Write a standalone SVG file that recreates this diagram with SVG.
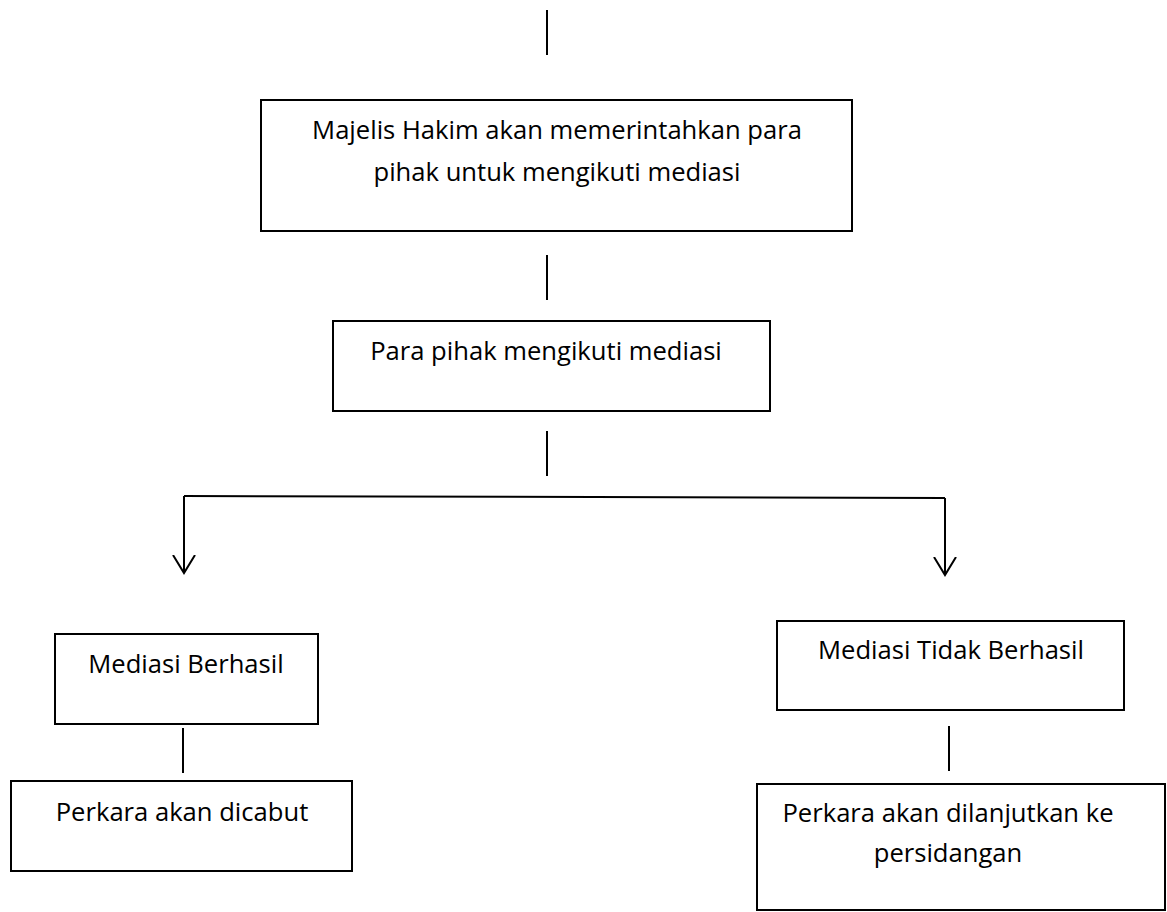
<svg xmlns="http://www.w3.org/2000/svg" width="1167" height="912" viewBox="0 0 1167 912">
<style>
.box{fill:#fff;stroke:#000;stroke-width:2}
.ln{stroke:#000;stroke-width:2;fill:none}
.t{font-family:"Open Sans","Liberation Sans",sans-serif;font-size:25.6px;fill:#000;text-anchor:middle}
</style>
<defs>
<marker id="arr" viewBox="0 0 20 24" refX="18" refY="12" markerWidth="20" markerHeight="24" markerUnits="userSpaceOnUse" orient="auto">
<path d="M0 1 L18 12 L0 23" fill="none" stroke="#000" stroke-width="2"/>
</marker>
</defs>
<rect width="1167" height="912" fill="#fff"/>
<g id="connectors">
<line class="ln" x1="547" y1="10" x2="547" y2="55"/>
<line class="ln" x1="547" y1="255" x2="547" y2="300"/>
<line class="ln" x1="547" y1="431" x2="547" y2="476"/>
<path class="ln" d="M184 496 L945 498"/>
<line class="ln" x1="945" y1="498" x2="945" y2="575" marker-end="url(#arr)"/>
<line class="ln" x1="184" y1="496" x2="184" y2="573" marker-end="url(#arr)"/>
<line class="ln" x1="183" y1="728" x2="183" y2="773"/>
<line class="ln" x1="949" y1="726" x2="949" y2="771"/>
</g>
<g id="n1"><rect class="box" x="261" y="100" width="591" height="131"/>
<text class="t" x="557" y="139">Majelis Hakim akan memerintahkan para</text>
<text class="t" x="557" y="181">pihak untuk mengikuti mediasi</text></g>
<g id="n2"><rect class="box" x="333" y="321" width="437" height="90"/>
<text class="t" x="546" y="360">Para pihak mengikuti mediasi</text></g>
<g id="n3"><rect class="box" x="55" y="634" width="263" height="90"/>
<text class="t" x="186" y="673">Mediasi Berhasil</text></g>
<g id="n4"><rect class="box" x="11" y="781" width="341" height="90"/>
<text class="t" x="182" y="821">Perkara akan dicabut</text></g>
<g id="n5"><rect class="box" x="777" y="621" width="347" height="89"/>
<text class="t" x="951" y="659">Mediasi Tidak Berhasil</text></g>
<g id="n6"><rect class="box" x="757" y="784" width="408" height="126"/>
<text class="t" x="948" y="822">Perkara akan dilanjutkan ke</text>
<text class="t" x="948" y="862">persidangan</text></g>
</svg>
